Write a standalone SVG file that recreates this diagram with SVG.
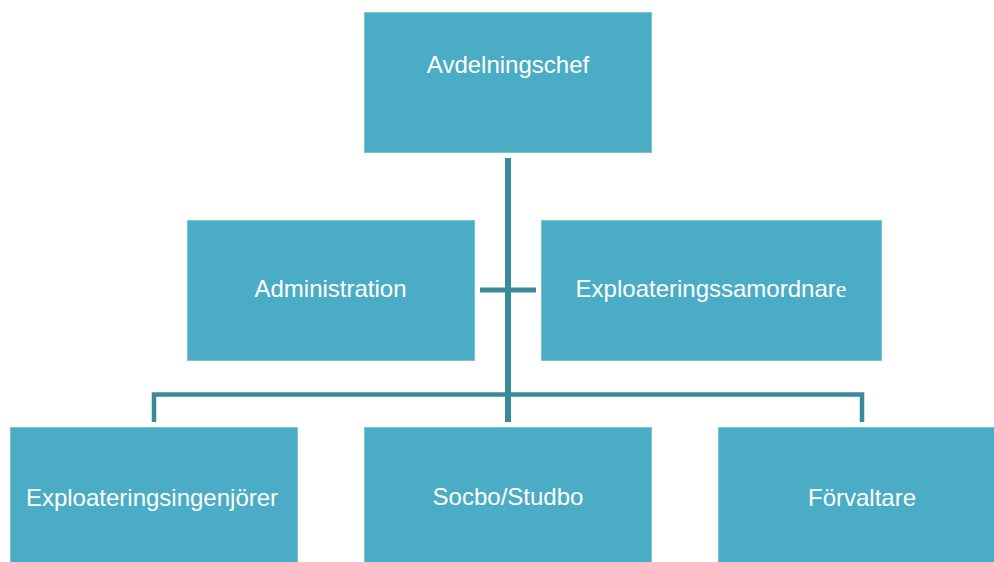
<svg xmlns="http://www.w3.org/2000/svg" width="994" height="562" viewBox="0 0 994 562">
<style>
.box{fill:#4bacc6;stroke:#7cc2d5;stroke-width:1}
.lbl{font-family:"Liberation Sans",Arial,sans-serif;font-size:24px;fill:#ffffff;text-anchor:middle}
.ser{font-family:"Liberation Serif","Times New Roman",serif}
.con{stroke:#3a8a9c;fill:none;stroke-linecap:butt;stroke-linejoin:miter}
</style>
<rect width="994" height="562" fill="#ffffff"/>
<g id="connectors">
<path class="con" d="M508 158V422" stroke-width="6"/>
<path class="con" d="M480 290H536" stroke-width="5"/>
<path class="con" d="M154 422V394.5H862V422" stroke-width="4.5"/>
</g>
<g id="avdelningschef">
<rect class="box" x="364.5" y="12.5" width="287" height="140"/>
<text class="lbl" x="508" y="73">Avdelningschef</text>
</g>
<g id="administration">
<rect class="box" x="187.5" y="220.5" width="287" height="140"/>
<text class="lbl" x="330.5" y="297">Administration</text>
</g>
<g id="exploateringssamordnare">
<rect class="box" x="541.5" y="220.5" width="340" height="140"/>
<text class="lbl" x="711" y="297">Exploateringssamordnar<tspan class="ser">e</tspan></text>
</g>
<g id="exploateringsingenjorer">
<rect class="box" x="10.5" y="427.5" width="287" height="140"/>
<text class="lbl" x="152" y="506">Exploateringsingenjörer</text>
</g>
<g id="socbo">
<rect class="box" x="364.5" y="427.5" width="287" height="140"/>
<text class="lbl" x="508" y="505">Socbo/Studbo</text>
</g>
<g id="forvaltare">
<rect class="box" x="718.5" y="427.5" width="287" height="140"/>
<text class="lbl" x="862" y="506">Förvaltare</text>
</g>
</svg>
